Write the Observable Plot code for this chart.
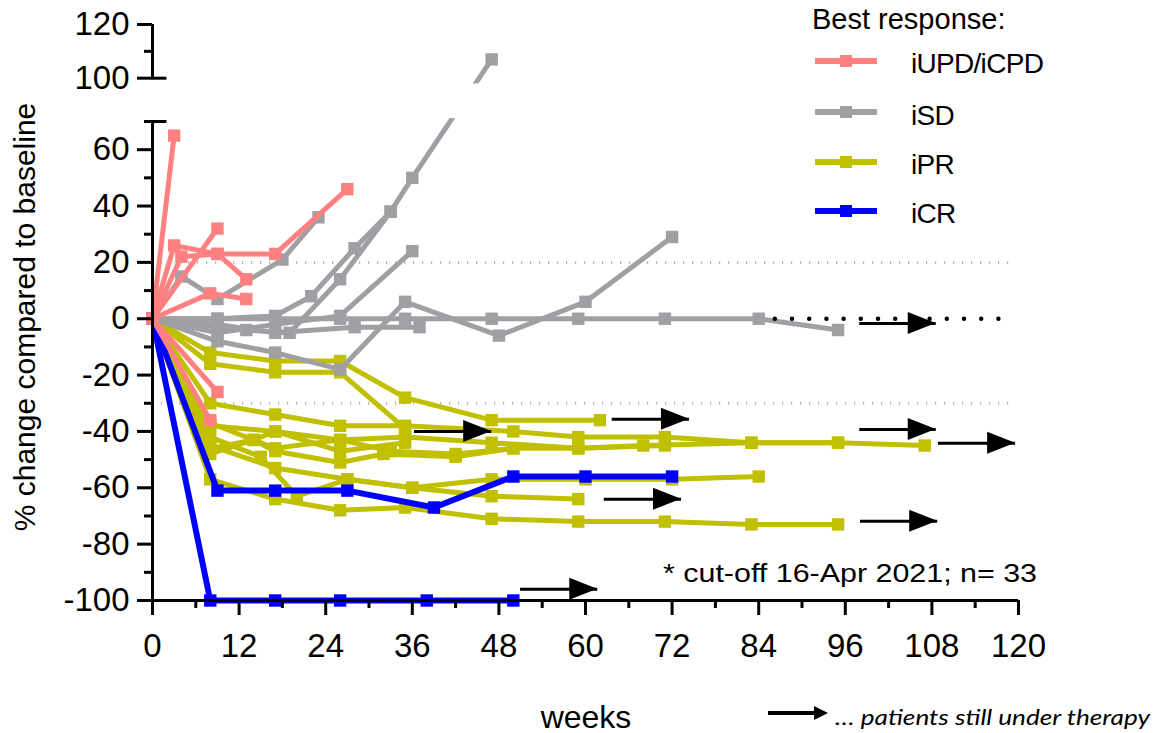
<!DOCTYPE html>
<html><head><meta charset="utf-8">
<script src="https://cdn.jsdelivr.net/npm/d3@7"></script>
<script src="https://cdn.jsdelivr.net/npm/@observablehq/plot@0.6"></script>
<style>
html,body{margin:0;padding:0;background:#fff;}
#chart{position:relative;width:1154px;height:733px;}
</style></head><body><div id="chart"></div>
<script>
// ---------- categories & colours ----------
const groups = ["iUPD/iCPD", "iSD", "iPR", "iCR"];
const groupColors = ["#FF8080", "#A0A0A4", "#C0C000", "#0000FF"];
const drawOrder = ["iPR", "iSD", "iCR", "iUPD/iCPD"];

// ---------- series (weeks / % change) ----------
const updWeeks = [[0,3],[0,3,9,17,27],[0,4,9,13],[0,9],[0,8,13],[0,9],[0,8]];
const updValues = [[0,65],[0,26,23,23,46],[0,22,23,14],[0,32],[0,9,7],[0,-26],[0,-36]];

const sdWeeks = [[0,4,9,18,23],[0,9,17,22,28,33,36,47],[0,9,17,26,35,48,60,72],[0,9,13,19,26,33],
                 [0,9,17,26,35,47,59,71,84,95],[0,9,17,26,36],[0,9,17,28,37]];
const sdValues = [[0,15,7,21,36],[0,0,1,8,25,38,50,107],[0,-8,-12,-18,6,-6,6,29],[0,-3,-4,-5,14,38],
                  [0,0,0,0,0,0,0,0,0,-4],[0,-5,-2,1,24],[0,-2,-5,-3,-3]];

const prWeeks = [[0,8,17,26,35,47,62],[0,8,17,26,35],[0,8,17,26,35,50,59,71,83,95],
                 [0,8,17,26,35,47,59,68,83,95,107],[0,8,14,17,26,32,42,50,59,71],
                 [0,8,17,26,35,47,59,71,83,95],[0,8,15,20,27,36,47,59],[0,8,17,27,36,47,60,72,84],
                 [0,8,17,26,33,42,50],[0,8,14,17,26,35]];
const prValues = [[0,-12,-15,-15,-28,-36,-36],[0,-16,-19,-19,-39],[0,-30,-34,-38,-38,-40,-42,-42,-44,-44],
                  [0,-38,-40,-43,-42,-44,-46,-45,-44,-44,-45],[0,-46,-43,-47,-51,-48,-49,-46,-46,-45],
                  [0,-57,-64,-68,-67,-71,-72,-72,-73,-73],[0,-42,-49,-63,-57,-60,-63,-64],[0,-45,-53,-57,-60,-57,-57,-57,-56],
                  [0,-37,-46,-43,-47,-48,-46],[0,-48,-43,-40,-47,-44]];

const crWeeks = [[0,9,17,27,39,50,60,72],[0,8,17,26,38,50]];
const crValues = [[0,-61,-61,-61,-67,-56,-56,-56],[0,-100,-100,-100,-100,-100]];

// ---------- "still under therapy" arrows (weeks from, weeks to, level) ----------
const arrowFrom = [98, 63.7, 98, 108.9, 98.1, 62.6, 36.3, 51];
const arrowTo   = [108.6, 74.4, 108.6, 119.6, 108.8, 73.3, 47, 61.7];
const arrowLevel = [-1.7, -35.7, -39.3, -44.2, -71.9, -64.1, -40, -96];

// ---------- axes ----------
const xMajor = [0,12,24,36,48,60,72,84,96,108,120];
const xMinor = [6,18,30,42,54,66,78,90,102,114];
const yMajor = [-100,-80,-60,-40,-20,0,20,40,60,100,120];
const yMinor = [-90,-70,-50,-30,-10,10,30,50,70,110];
const yBreakTicks = [70, 100];
const yBreakGap = [72, 96];
const refLevels = [20, -30];
const dottedZero = [{from: 86.3, to: 117.6, level: 0}];

// ---------- table ----------
const rows = [];
function addGroup(group, weeksList, valuesList) {
  weeksList.forEach((ws, i) => ws.forEach((w, j) =>
    rows.push({id: group + "-" + i, group, week: w, value: valuesList[i][j]})));
}
addGroup("iUPD/iCPD", updWeeks, updValues);
addGroup("iSD", sdWeeks, sdValues);
addGroup("iPR", prWeeks, prValues);
addGroup("iCR", crWeeks, crValues);
const arrows = arrowFrom.map((f, i) => ({x1: f, x2: arrowTo[i], y: arrowLevel[i]}));
const colorOf = g => groupColors[groups.indexOf(g)];

function arrowHeads(data, len, half) {
  return (index, scales) => {
    const g = d3.create("svg:g");
    for (const a of data) {
      const x = scales.x(a.x2), y = scales.y(a.y);
      g.append("path").attr("d", `M${x},${y}L${x - len},${y - half}L${x - len},${y + half}Z`).attr("fill", "black");
    }
    return g.node();
  };
}

const marks = [
  Plot.ruleY(refLevels, {x1: 0, x2: 119.3, stroke: "#b8b8b8", strokeWidth: 3, strokeDasharray: "1.2,7.8"}),
];
for (const g of drawOrder) {
  const d = rows.filter(r => r.group === g);
  marks.push(Plot.line(d, {x: "week", y: "value", z: "id", stroke: colorOf(g), strokeWidth: g === "iCR" ? 6 : 5}));
  marks.push(Plot.dot(d, {x: "week", y: "value", symbol: "square", r: 7, fill: colorOf(g)}));
  if (g === "iSD") {
    marks.push(Plot.ruleY(dottedZero, {x1: "from", x2: "to", y: "level", stroke: "black", strokeWidth: 4.5, strokeLinecap: "round", strokeDasharray: "0,17.2"}));
  }
}
marks.push(
  Plot.rect([{a: yBreakGap[0], b: yBreakGap[1]}], {x1: 0.6, x2: 120, y1: "a", y2: "b", fill: "white"}),
  Plot.ruleY(arrows, {x1: "x1", x2: "x2", y: "y", stroke: "black", strokeWidth: 3}),
  arrowHeads(arrows, 28, 11),
  // axis lines
  Plot.ruleX([0], {y1: -100, y2: 70, stroke: "black", strokeWidth: 3}),
  Plot.ruleX([0], {y1: 100, y2: 120, stroke: "black", strokeWidth: 3}),
  Plot.ruleY([-100], {x1: 0, x2: 120, stroke: "black", strokeWidth: 3}),
  Plot.ruleY(yBreakTicks, {x1: 0, x2: 2, stroke: "black", strokeWidth: 3}),
  Plot.axisY({ticks: yMajor, tickSize: 15, tickPadding: 8, fontSize: 33, strokeWidth: 3, tickFormat: d => String(d), label: null}),
  Plot.axisY({ticks: yMinor, tickSize: 8, text: null, strokeWidth: 3, label: null}),
  Plot.axisX({ticks: xMajor, tickSize: 15, tickPadding: 18, fontSize: 33, strokeWidth: 3, tickFormat: d => String(d), label: null}),
  Plot.axisX({ticks: xMinor, tickSize: 8, text: null, strokeWidth: 3, label: null})
);

const svg = Plot.plot({
  width: 1154, height: 733,
  marginLeft: 152, marginRight: 136, marginTop: 24, marginBottom: 133,
  style: {fontFamily: "'Liberation Sans', Arial, sans-serif", background: "white", overflow: "visible"},
  x: {domain: [0, 120], range: [152, 1018]},
  y: {type: "linear", domain: [-100, 70, 100, 120], range: [600, 121, 77.7, 24]},
  marks
});

// ---------- titles, legend, notes ----------
const s = d3.select(svg);
const font = "'Liberation Sans', Arial, sans-serif";
s.append("text").attr("transform", "translate(35,317) rotate(-90)").attr("text-anchor", "middle")
  .attr("font-family", font).attr("font-size", 30).attr("fill", "black").text("% change compared to baseline");
s.append("text").attr("x", 586).attr("y", 728).attr("text-anchor", "middle")
  .attr("font-family", font).attr("font-size", 32).attr("fill", "black").text("weeks");
s.append("text").attr("x", 663).attr("y", 582).attr("text-anchor", "start").attr("textLength", 374).attr("lengthAdjust", "spacingAndGlyphs")
  .attr("font-family", font).attr("font-size", 26).attr("fill", "black").text("* cut-off 16-Apr 2021; n= 33");

const lg = s.append("g").attr("text-anchor", "start");
lg.append("text").attr("x", 812).attr("y", 29).attr("font-family", font).attr("font-size", 29).attr("fill", "black").text("Best response:");
const legY = [61, 112, 162, 211];
const legBase = [73, 125, 174, 223];
groups.forEach((g, i) => {
  lg.append("line").attr("x1", 815).attr("x2", 877).attr("y1", legY[i]).attr("y2", legY[i])
    .attr("stroke", groupColors[i]).attr("stroke-width", 6);
  lg.append("rect").attr("x", 846 - 6).attr("y", legY[i] - 6).attr("width", 12).attr("height", 12).attr("fill", groupColors[i]);
  lg.append("text").attr("x", 911).attr("y", legBase[i]).attr("font-family", font).attr("font-size", 28)
    .attr("letter-spacing", -0.7).attr("fill", "black").text(g);
});

// bottom note
s.append("line").attr("x1", 768).attr("x2", 815).attr("y1", 713).attr("y2", 713).attr("stroke", "black").attr("stroke-width", 4);
s.append("path").attr("d", "M828,713L814,706L814,720Z").attr("fill", "black");
s.append("text").attr("x", 835).attr("y", 725).attr("text-anchor", "start").attr("textLength", 315).attr("lengthAdjust", "spacingAndGlyphs")
  .attr("font-family", "Lato, 'Open Sans', sans-serif").attr("font-style", "italic").attr("font-size", 21)
  .attr("fill", "black").text("\u2026 patients still under therapy");

document.getElementById("chart").appendChild(svg);
</script></body></html>
